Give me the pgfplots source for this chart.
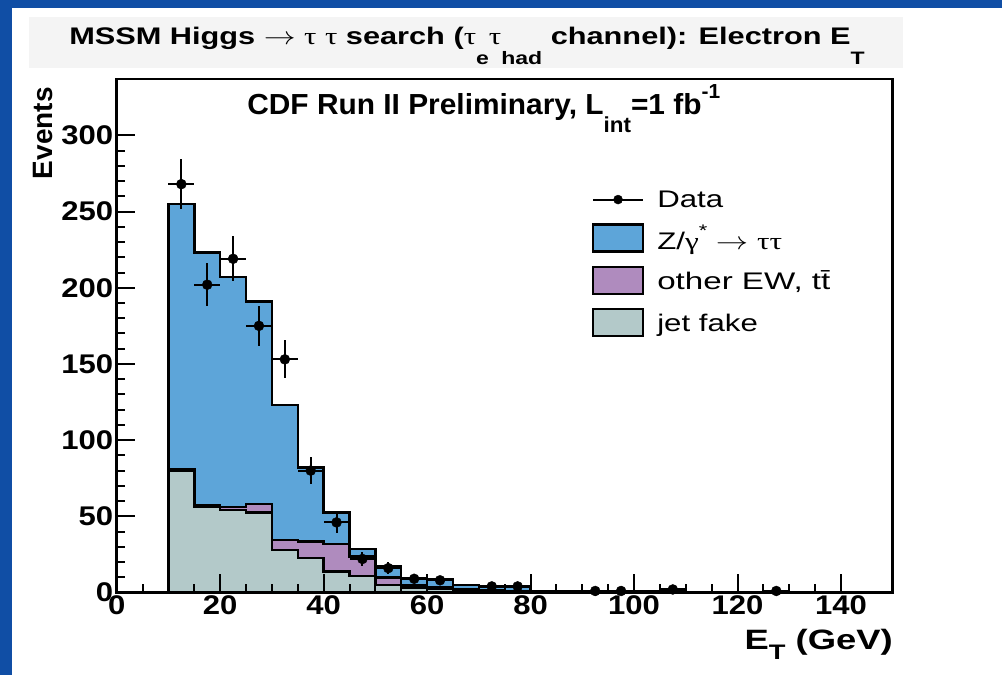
\documentclass[border=0pt]{standalone}
\usepackage{fontspec}
\setmainfont{Liberation Sans}
\newfontfamily\symfont{Liberation Serif}
\usepackage{pgfplots}
\pgfplotsset{compat=1.18}
\usepackage{pgfplotstable}

\definecolor{slide}{RGB}{16,78,165}
\definecolor{ztt}{RGB}{93,165,217}
\definecolor{ewk}{RGB}{175,139,190}
\definecolor{jetf}{RGB}{179,201,201}
\definecolor{titlebox}{RGB}{244,244,244}

% ROOT-like sub/superscripts, and the wider text of the slide
\newcommand\lo[2][0.8em]{\raisebox{-#1}{\scalebox{0.75}{#2}}}
\newcommand\hi[2][0.55em]{\raisebox{#1}{\scalebox{0.7}{#2}}}
\newcommand\ta{{\symfont\mdseries τ}}
\newcommand\wide[2][1.3]{\scalebox{#1}[1]{#2}}

\pgfplotsset{
  boxleg/.style={legend image code/.code={%
    \draw[##1, line width=2.5pt] (0pt,-13pt) rectangle (50pt,14pt);}},
  datleg/.style={legend image code/.code={%
    \draw[black, line width=2pt] (0pt,0pt) -- (50pt,0pt);
    \fill[black] (25pt,0pt) circle (4.5pt);}},
}

% stacked histogram, bin low edges, cumulative contents
\pgfplotstableread{
x   jet  ew   tot
10  80   81   255
15  56   57   223
20  54   56   207
25  52.5 58   191
30  28   34.5 123
35  22.5 33.5 82
40  13.8 31.8 52.5
45  10.8 23.5 28.5
50  5    10   17
55  3.4  5    9.3
60  2.7  3.5  8.6
65  1.5  2    5
70  0.6  1.2  4
75  0.5  1    3.6
80  0.3  0.5  1
85  0.2  0.4  0.8
90  0.2  0.3  0.7
95  0.2  0.3  0.6
100 0.1  0.2  0.5
105 0.1  0.2  0.5
110 0.1  0.2  0.4
115 0.1  0.1  0.3
120 0.1  0.1  0.3
125 0.1  0.1  0.3
130 0    0.1  0.2
135 0    0.1  0.2
140 0    0.1  0.2
145 0    0.1  0.2
150 0    0.1  0.2
}\stack

\pgfplotstableread{
x     y    e
12.5  268  16.4
17.5  202  14.2
22.5  219  14.8
27.5  175  13.2
32.5  153  12.4
37.5  80   8.9
42.5  46   6.8
47.5  22   4.7
52.5  16   4.0
57.5  9    3.0
62.5  8    2.8
72.5  4    2.0
77.5  4    2.0
92.5  1    1.0
97.5  1    1.0
107.5 2    1.4
127.5 1    1.0
}\datapts

\begin{document}
\begin{tikzpicture}[x=1pt,y=1pt]
\useasboundingbox (0,0) rectangle (1002,675);
\fill[slide] (0,0) rectangle (1002,675);
\fill[white] (12,0) rectangle (1002,667);
\fill[titlebox] (29,607) rectangle (903,658);
\node[anchor=base, inner sep=0pt] at (467,630)
  {\fontsize{24}{27}\selectfont\bfseries\wide[1.28]{MSSM Higgs $\rightarrow$ \ta\ \ta\ search
   (\ta\lo{e}\ta\lo{had} channel): Electron E\lo{T}}};

\begin{axis}[
  at={(116.7pt,82.5pt)}, anchor=south west,
  scale only axis, width=776pt, height=513.5pt,
  xmin=0, xmax=150, ymin=0, ymax=337,
  axis on top,
  axis line style={line width=2.5pt},
  tick style={black, line width=2pt},
  tick align=inside,
  xtick pos=left, ytick pos=left,
  major tick length=18pt, minor tick length=8pt,
  xtick={0,20,...,140}, minor x tick num=3,
  ytick={0,50,...,300}, minor y tick num=4,
  tick label style={font=\fontsize{27}{30}\selectfont\bfseries},
  xticklabel={\wide[1.15]{\pgfmathprintnumber{\tick}}},
  yticklabel={\wide[1.15]{\pgfmathprintnumber{\tick}}},
  /pgf/number format/assume math mode=true,
  legend style={draw=none, fill=none, at={(0.612,0.787)}, anchor=north west,
    font=\fontsize{24}{27}\selectfont, row sep=12.5pt, inner sep=0pt,
    cells={anchor=west},
    /tikz/every odd column/.append style={column sep=11pt}},
]
\addlegendimage{datleg}
\addlegendentry{\wide{Data}}
\addlegendimage{boxleg, fill=ztt, draw=black}
\addlegendentry{\wide{Z/{\symfont γ}\hi{*} $\rightarrow$ {\symfont ττ}}}
\addlegendimage{boxleg, fill=ewk, draw=black}
\addlegendentry{\wide[1.38]{other EW, t\={t}}}
\addlegendimage{boxleg, fill=jetf, draw=black}
\addlegendentry{\wide{jet fake}}

\addplot[forget plot, const plot mark left, fill=ztt, draw=black, line width=2.5pt]
  table[x=x, y=tot] {\stack} \closedcycle;
\addplot[forget plot, const plot mark left, fill=ewk, draw=black, line width=2.5pt]
  table[x=x, y=ew] {\stack} \closedcycle;
\addplot[forget plot, const plot mark left, fill=jetf, draw=black, line width=2.5pt]
  table[x=x, y=jet] {\stack} \closedcycle;

\addplot[forget plot, only marks, mark=*, mark size=5pt, black,
  error bars/.cd, x dir=both, x fixed=2.5, y dir=both, y explicit,
  error mark=none, error bar style={line width=2pt}]
  table[x=x, y=y, y error=e] {\datapts};

\node[anchor=base, inner sep=0pt] at (rel axis cs:0.473,0.93)
  {\fontsize{29}{32}\selectfont\bfseries\wide[1.03]{CDF Run II Preliminary, L\lo[0.6em]{int}=1 fb\hi{-1}}};
\end{axis}

\node[rotate=90, anchor=south east, inner sep=0pt,
  font=\fontsize{28}{30}\selectfont\bfseries] at (53,588) {Events};
\node[anchor=base east, inner sep=0pt,
  font=\fontsize{28}{30}\selectfont\bfseries] at (893,25) {\wide{E\lo[0.35em]{T} (GeV)}};
\end{tikzpicture}
\end{document}
